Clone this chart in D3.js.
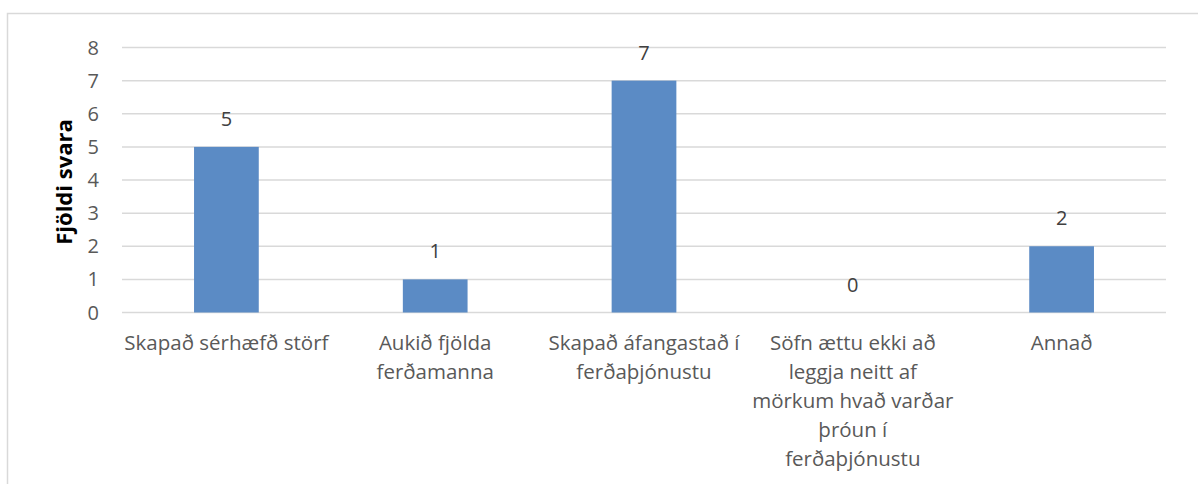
<!DOCTYPE html>
<html>
<head>
<meta charset="utf-8">
<script src="https://cdn.jsdelivr.net/npm/d3@7"></script>
<style>
  body { margin: 0; background: #fff; }
  svg text { font-family: "Open Sans", sans-serif; }
</style>
</head>
<body>
<svg id="chart" width="1198" height="484"></svg>
<script>
const categories = [
  ['Skapað sérhæfð störf'],
  ['Aukið fjölda', 'ferðamanna'],
  ['Skapað áfangastað í', 'ferðaþjónustu'],
  ['Söfn ættu ekki að', 'leggja neitt af', 'mörkum hvað varðar', 'þróun í', 'ferðaþjónustu'],
  ['Annað'],
];
const values = [5, 1, 7, 0, 2];
const yTicks = [0, 1, 2, 3, 4, 5, 6, 7, 8];
const yTitle = 'Fjöldi svara';

const svg = d3.select('#chart');

// chart frame (cut off at right and bottom)
svg.append('path')
  .attr('d', 'M7.5,484 V13.5 H1198')
  .attr('fill', 'none')
  .attr('stroke', '#d9d9d9')
  .attr('stroke-width', 1.5);

const plot = { left: 122, right: 1166, top: 47.5, bottom: 312.5 };

const x = d3.scaleBand()
  .domain(d3.range(categories.length))
  .range([plot.left, plot.right])
  .paddingInner(0.69)
  .paddingOuter(0.345);

const y = d3.scaleLinear()
  .domain([0, 8])
  .range([plot.bottom, plot.top]);

// gridlines
svg.append('g')
  .selectAll('line')
  .data(yTicks)
  .join('line')
  .attr('x1', plot.left)
  .attr('x2', plot.right)
  .attr('y1', (d) => y(d))
  .attr('y2', (d) => y(d))
  .attr('stroke', '#d9d9d9')
  .attr('stroke-width', 1.5);

// y tick labels
svg.append('g')
  .selectAll('text')
  .data(yTicks)
  .join('text')
  .attr('x', 99)
  .attr('y', (d) => y(d))
  .attr('dy', '0.35em')
  .attr('text-anchor', 'end')
  .attr('fill', '#595959')
  .attr('font-size', 20)
  .text((d) => d);

// y axis title
svg.append('text')
  .attr('transform', `translate(72,${(plot.top + plot.bottom) / 2 + 2}) rotate(-90)`)
  .attr('text-anchor', 'middle')
  .attr('font-size', 22)
  .attr('font-weight', 'bold')
  .attr('fill', '#000')
  .text(yTitle);

// bars
svg.append('g')
  .selectAll('rect')
  .data(values)
  .join('rect')
  .attr('x', (d, i) => x(i))
  .attr('width', x.bandwidth())
  .attr('y', (d) => y(d))
  .attr('height', (d) => y(0) - y(d))
  .attr('fill', '#5b8bc5');

// value labels
svg.append('g')
  .selectAll('text')
  .data(values)
  .join('text')
  .attr('x', (d, i) => x(i) + x.bandwidth() / 2)
  .attr('y', (d) => y(d) - 21)
  .attr('text-anchor', 'middle')
  .attr('fill', '#404040')
  .attr('font-size', 20)
  .text((d) => d);

// category labels
const catG = svg.append('g')
  .selectAll('text')
  .data(categories)
  .join('text')
  .attr('x', (d, i) => x(i) + x.bandwidth() / 2)
  .attr('y', 350)
  .attr('text-anchor', 'middle')
  .attr('fill', '#595959')
  .attr('font-size', 20.5);

catG.selectAll('tspan')
  .data((d, i) => d.map((line) => ({ line, i })))
  .join('tspan')
  .attr('x', (d) => x(d.i) + x.bandwidth() / 2)
  .attr('dy', (d, j) => (j === 0 ? 0 : 29))
  .text((d) => d.line);
</script>
</body>
</html>
